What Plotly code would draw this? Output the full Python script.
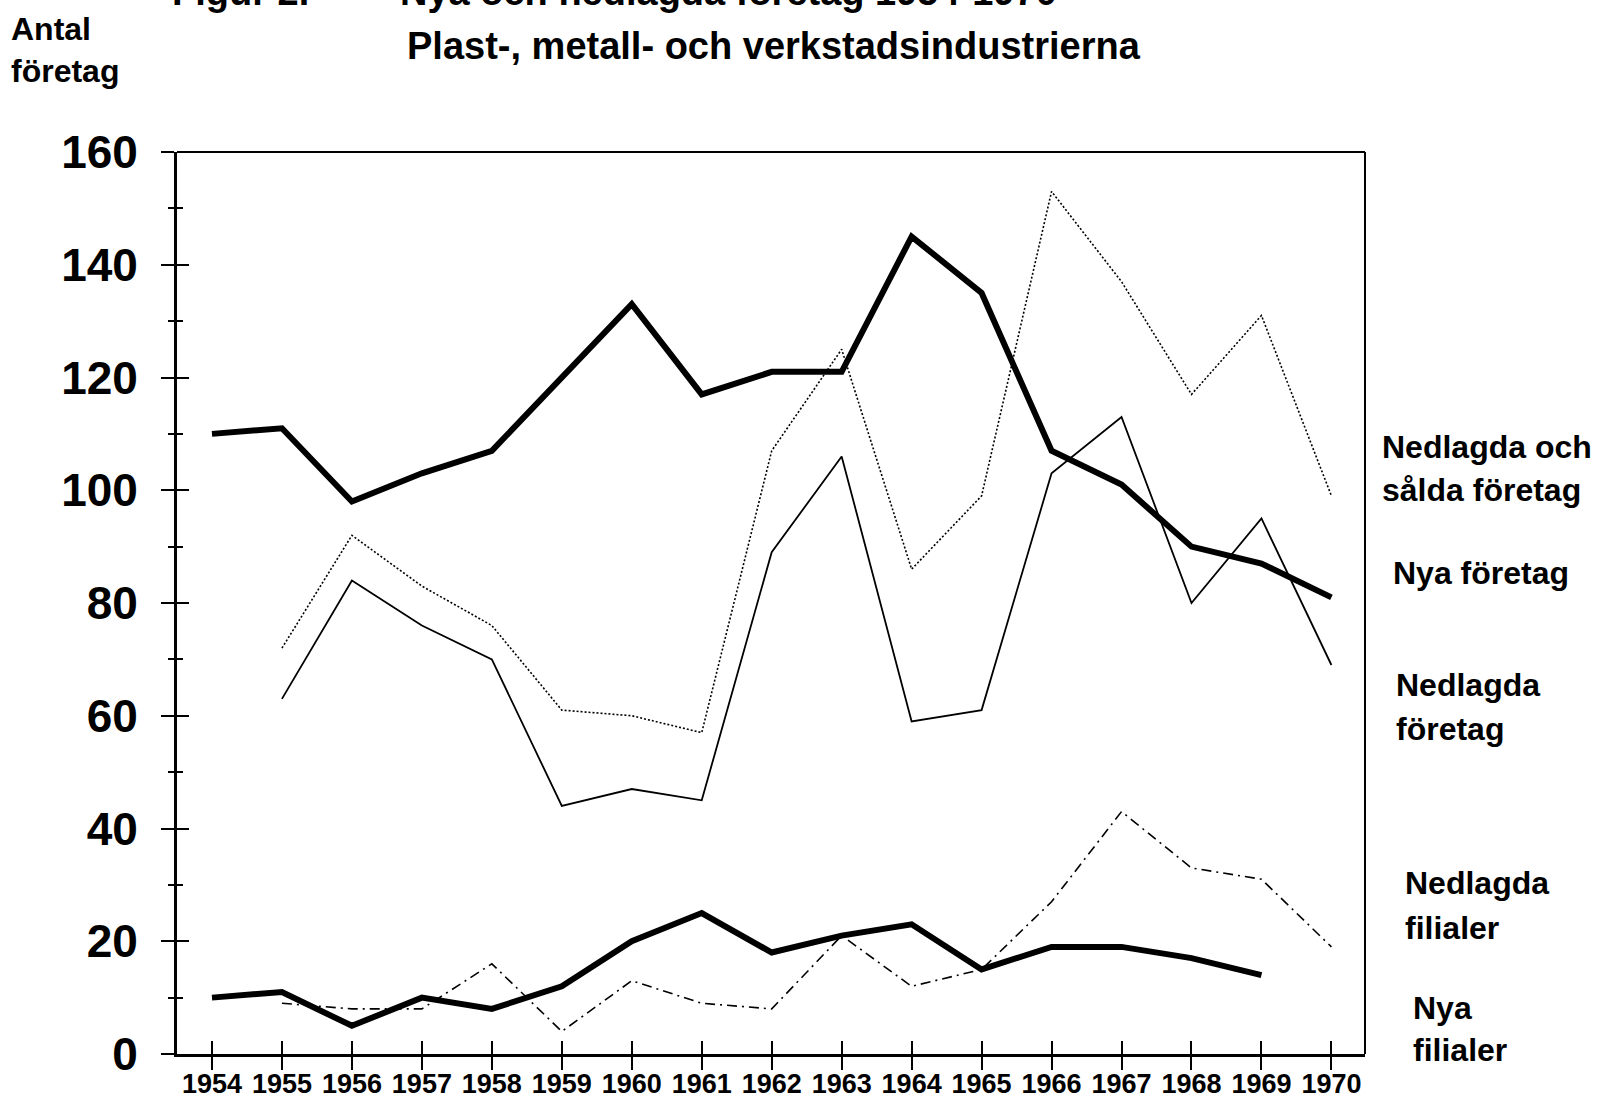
import plotly.graph_objects as go

years = list(range(1954, 1971))
nya_foretag = [110, 111, 98, 103, 107, 120, 133, 117, 121, 121, 145, 135, 107, 101, 90, 87, 81]
nedlagda_salda = [None, 72, 92, 83, 76, 61, 60, 57, 107, 125, 86, 99, 153, 137, 117, 131, 99]
nedlagda_foretag = [None, 63, 84, 76, 70, 44, 47, 45, 89, 106, 59, 61, 103, 113, 80, 95, 69]
nya_filialer = [10, 11, 5, 10, 8, 12, 20, 25, 18, 21, 23, 15, 19, 19, 17, 14, None]
nedlagda_filialer = [None, 9, 8, 8, 16, 4, 13, 9, 8, 21, 12, 15, 27, 43, 33, 31, 19]
y_ticks = [0, 20, 40, 60, 80, 100, 120, 140, 160]

W, H = 1599, 1105
L, R, T, B = 177, 234, 152, 51
PW, PH = W - L - R, H - T - B

def px(x):
    return (x - L) / PW

def py(y):
    return (H - B - y) / PH

FONT = "Liberation Sans, Arial, sans-serif"

fig = go.Figure()

fig.add_trace(go.Scatter(x=years, y=nedlagda_salda, mode="lines", name="Nedlagda och sålda företag",
                         line=dict(color="black", width=1.6, dash="2px,2px")))
fig.add_trace(go.Scatter(x=years, y=nedlagda_foretag, mode="lines", name="Nedlagda företag",
                         line=dict(color="black", width=1.8)))
fig.add_trace(go.Scatter(x=years, y=nedlagda_filialer, mode="lines", name="Nedlagda filialer",
                         line=dict(color="black", width=1.6, dash="10px,5px,2px,5px")))
fig.add_trace(go.Scatter(x=years, y=nya_foretag, mode="lines", name="Nya företag",
                         line=dict(color="black", width=6)))
fig.add_trace(go.Scatter(x=years, y=nya_filialer, mode="lines", name="Nya filialer",
                         line=dict(color="black", width=6)))
# helper trace so the overlay axes (inner half of crossing ticks) are drawn
fig.add_trace(go.Scatter(x=[years[0]], y=[y_ticks[0]], xaxis="x2", yaxis="y2", mode="markers",
                         marker=dict(size=0.1, color="rgba(0,0,0,0)"), hoverinfo="skip", showlegend=False))

xr = [1953.5, 1970.48]
yr = [0, 160]

fig.update_layout(
    template="none",
    width=W, height=H,
    margin=dict(l=L, r=R, t=T, b=B, pad=0, autoexpand=False),
    paper_bgcolor="white", plot_bgcolor="white",
    showlegend=False,
    xaxis=dict(range=xr, tickmode="array", tickvals=years, ticktext=[str(y) for y in years],
               automargin=False,
               showgrid=False, zeroline=False, showline=True, linecolor="black", linewidth=2.5,
               ticks="outside", ticklen=13, tickwidth=1.8, tickcolor="black",
               ticklabelstandoff=-9,
               tickfont=dict(family=FONT, size=27, color="black", weight="bold")),
    yaxis=dict(range=yr, tickmode="array", tickvals=y_ticks, ticktext=[str(v) for v in y_ticks],
               automargin=False,
               showgrid=False, zeroline=False, showline=True, linecolor="black", linewidth=2.8,
               ticks="outside", ticklen=13, tickwidth=2, tickcolor="black",
               minor=dict(dtick=10, tick0=0, ticks="outside", ticklen=6, tickwidth=2, tickcolor="black"),
               ticklabelstandoff=14,
               tickfont=dict(family=FONT, size=46, color="black", weight="bold")),
    xaxis2=dict(range=xr, overlaying="x", anchor="y2", side="bottom", tickmode="array", tickvals=years,
                automargin=False,
                showticklabels=False, showgrid=False, zeroline=False, showline=False,
                ticks="inside", ticklen=13, tickwidth=1.8, tickcolor="black"),
    yaxis2=dict(range=yr, overlaying="y", anchor="x2", side="left", tickmode="array", tickvals=y_ticks,
                automargin=False,
                showticklabels=False, showgrid=False, zeroline=False, showline=False,
                ticks="inside", ticklen=12, tickwidth=2, tickcolor="black",
                minor=dict(dtick=10, tick0=0, ticks="inside", ticklen=6, tickwidth=2, tickcolor="black")),
)

# frame (top and right)
fig.add_shape(type="line", xref="paper", yref="paper", x0=0, x1=1, y0=1, y1=1,
              line=dict(color="black", width=2))
fig.add_shape(type="line", xref="paper", yref="paper", x0=1, x1=1, y0=0, y1=1,
              line=dict(color="black", width=2))

def label(text, x, y, size=32, family=FONT, anchor="left"):
    fig.add_annotation(text=text, xref="paper", yref="paper", x=px(x), y=py(y),
                       xanchor=anchor, yanchor="middle", showarrow=False,
                       font=dict(family=family, size=size, color="black", weight="bold"))

# titles (first line partly cut off at the top edge in the original)
label("Figur 2.", 240, -8, size=38, anchor="center")
label("Nya och nedlagda företag 1954-1970", 398, -8, size=38)
label("Plast-, metall- och verkstadsindustrierna", 405, 46, size=38)

# y-axis title
label("Antal", 9, 29, size=32)
label("företag", 9, 71, size=32)

# series labels at right
label("Nedlagda och", 1380, 447)
label("sålda företag", 1380, 490)
label("Nya företag", 1391, 573)
label("Nedlagda", 1394, 685)
label("företag", 1394, 729)
label("Nedlagda", 1403, 883)
label("filialer", 1403, 928)
label("Nya", 1411, 1008)
label("filialer", 1411, 1050)

fig.write_html("out.html", config={"displayModeBar": False},
               post_script="document.body.style.margin='0';document.body.style.overflow='hidden';")
